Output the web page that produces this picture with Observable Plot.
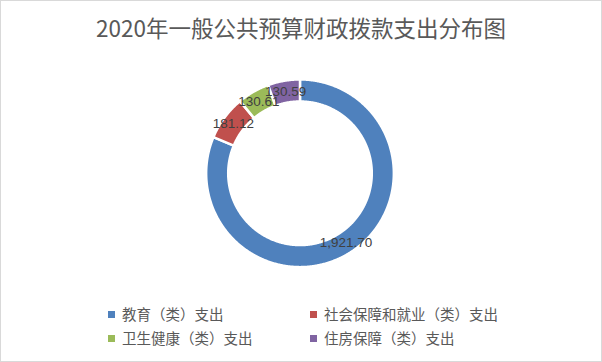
<!DOCTYPE html>
<html>
<head>
<meta charset="utf-8">
<script src="https://cdn.jsdelivr.net/npm/d3@7"></script>
<script src="https://cdn.jsdelivr.net/npm/@observablehq/plot@0.6"></script>
<style>
  body { margin: 0; background: #fff; }
  #frame { position: relative; width: 602px; height: 362px; box-sizing: border-box; border: 1px solid #d9d9d9; background: #fff; overflow: hidden; font-family: "Noto Sans CJK SC", "Noto Sans", sans-serif; }
  #title { position: absolute; left: 0; width: 600px; top: 13px; line-height: 26px; text-align: center; font-size: 22.5px; color: #595959; }
  #chart { position: absolute; left: -1px; top: 49px; }
  .leg { position: absolute; display: flex; align-items: center; font-size: 14.5px; color: #595959; line-height: 20px; white-space: nowrap; }
  .leg span.sw { display: inline-block; width: 7px; height: 7px; margin-right: 7px; }
</style>
</head>
<body>
<div id="frame">
  <div id="title">2020年一般公共预算财政拨款支出分布图</div>
  <div id="chart"></div>
</div>
<script>
const categories = ["教育（类）支出", "社会保障和就业（类）支出", "卫生健康（类）支出", "住房保障（类）支出"];
const values = [1921.70, 181.12, 130.61, 130.59];
const colors = ["#4f81bd", "#c0504d", "#9bbb59", "#8064a2"];

const rows = categories.map((cat, i) => ({cat, value: values[i]}));
const arcs = d3.pie().sort(null).value(d => d.value)(rows);

const R_OUT = 1, R_IN = 0.765, R_LAB = (R_OUT + R_IN) / 2;
const step = Math.PI / 360;

// slice outlines in unit coordinates (angle 0 at top, clockwise)
const ring = [];
for (const a of arcs) {
  const n = Math.max(2, Math.ceil((a.endAngle - a.startAngle) / step) + 1);
  const pts = [];
  for (let k = 0; k < n; k++) {
    const t = a.startAngle + (a.endAngle - a.startAngle) * k / (n - 1);
    pts.push({cat: a.data.cat, x: R_OUT * Math.sin(t), y: R_OUT * Math.cos(t)});
  }
  for (let k = n - 1; k >= 0; k--) {
    const t = a.startAngle + (a.endAngle - a.startAngle) * k / (n - 1);
    pts.push({cat: a.data.cat, x: R_IN * Math.sin(t), y: R_IN * Math.cos(t)});
  }
  pts.push({...pts[0]});
  ring.push(...pts);
}

const labels = arcs.map(a => {
  const m = (a.startAngle + a.endAngle) / 2;
  return {cat: a.data.cat, x: R_LAB * Math.sin(m), y: R_LAB * Math.cos(m), text: d3.format(",.2f")(a.data.value)};
});

const chart = Plot.plot({
  width: 602,
  height: 246,
  margin: 0,
  x: {domain: [-1, 1], range: [206, 394], axis: null},
  y: {domain: [-1, 1], range: [217, 29], axis: null},
  color: {domain: categories, range: colors},
  style: {background: "transparent", overflow: "visible"},
  marks: [
    Plot.line(ring, {x: "x", y: "y", z: "cat", fill: "cat", stroke: "white", strokeWidth: 2.5, curve: "linear"}),
    Plot.text(labels, {x: "x", y: "y", text: "text", fill: "#404040", fontSize: 13.5, fontFamily: "Liberation Sans, Arial, sans-serif"})
  ]
});
document.getElementById("chart").appendChild(chart);

// legend (two columns, two rows)
const frame = document.getElementById("frame");
const legPos = [[107, 303], [309, 303], [107, 327], [309, 327]];
categories.forEach((cat, i) => {
  const d = document.createElement("div");
  d.className = "leg";
  d.style.left = legPos[i][0] + "px";
  d.style.top = legPos[i][1] + "px";
  const sw = document.createElement("span");
  sw.className = "sw";
  sw.style.background = colors[i];
  d.appendChild(sw);
  d.appendChild(document.createTextNode(cat));
  frame.appendChild(d);
});
</script>
</body>
</html>
